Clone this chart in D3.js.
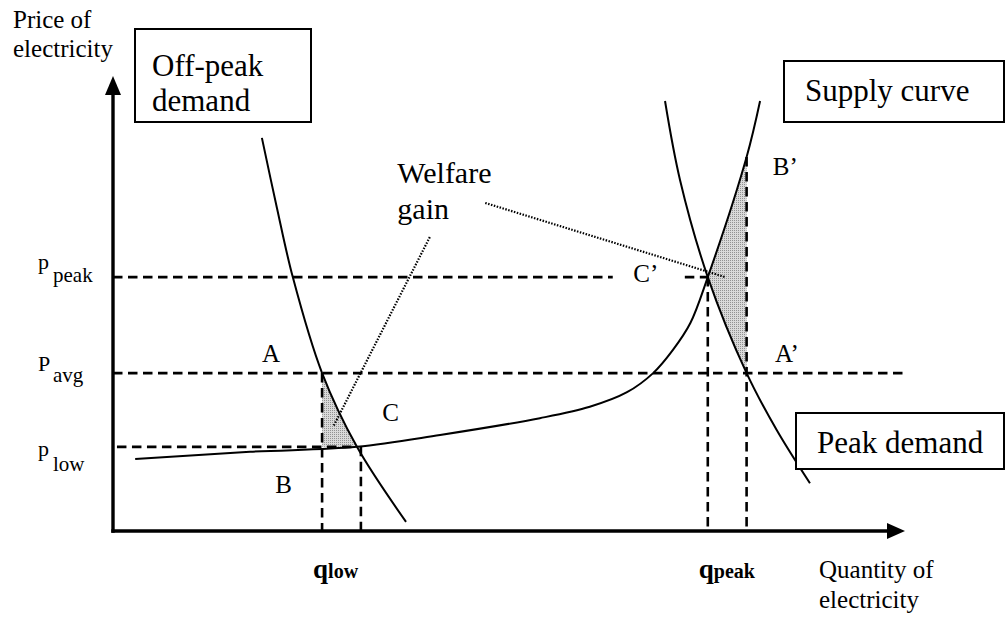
<!DOCTYPE html>
<html><head><meta charset="utf-8">
<script src="https://cdn.jsdelivr.net/npm/d3@7"></script>
<style>
html,body{margin:0;padding:0;background:#fff;}
svg{display:block;}
text{font-family:"Times New Roman","Liberation Serif",serif;fill:#000;}
</style>
</head><body>
<svg id="chart" width="1006" height="617"></svg>
<script>
// ---------------- data (quantity 0..100, price 0..100) ----------------
const offPeakDemandQ = [18.8, 20.7, 22.7, 26.4, 30.8, 37.0];
const offPeakDemandP = [86.4, 71.0, 55.8, 34.7, 18.5, 2.0];
const supplyQ = [2.8, 17.3, 30.8, 41.3, 53.9, 60.2, 64.9, 68.2, 70.7, 72.9, 75.1, 80.0, 81.7];
const supplyP = [15.8, 17.4, 18.5, 21.1, 24.8, 27.3, 30.5, 34.7, 39.8, 45.7, 55.8, 82.2, 94.5];
const peakDemandQ = [69.7, 71.6, 75.1, 80.0, 83.8, 88.0];
const peakDemandP = [94.5, 77.1, 55.8, 34.7, 22.2, 10.5];
const priceLevels = [55.8, 34.7, 18.5];          // p_peak, p_avg, p_low
const priceTickMain = ["p", "P", "p"];
const priceTickSub = ["peak", "avg", "low"];
const quantityLevels = [26.4, 75.1];             // q_low, q_peak
const quantityTickMain = ["q", "q"];
const quantityTickSub = ["low", "peak"];
const qLowEq = 31.3;     // off-peak equilibrium quantity (at p_low)
const qPeakAvg = 80.0;   // peak demand at p_avg
const pPeakAvgTop = 82.2;// supply price at qPeakAvg (B')
const welfareLeaderA = [[40.0, 64.6], [27.8, 22.9]];
const welfareLeaderB = [[47.0, 72.1], [77.3, 55.8]];

const [pPeak, pAvg, pLow] = priceLevels;
const [qLow, qPeak] = quantityLevels;

const svg = d3.select("#chart");
const x = d3.scaleLinear().domain([0, 100]).range([113, 905]);
const y = d3.scaleLinear().domain([0, 100]).range([531, 76]);

const pts = (qs, ps) => qs.map((q, i) => [q, ps[i]]);
const offPeak = pts(offPeakDemandQ, offPeakDemandP);
const supply = pts(supplyQ, supplyP);
const peakD = pts(peakDemandQ, peakDemandP);

const curve = d3.line().x(d => x(d[0])).y(d => y(d[1])).curve(d3.curveCatmullRom.alpha(0.5));
const lin = d3.line().x(d => x(d[0])).y(d => y(d[1]));

// defs: pattern + clips
const defs = svg.append("defs");
const pat = defs.append("pattern").attr("id", "stipple").attr("width", 2).attr("height", 2)
  .attr("patternUnits", "userSpaceOnUse");
pat.append("rect").attr("width", 2).attr("height", 2).attr("fill", "#dadada");
pat.append("rect").attr("width", 1).attr("height", 1).attr("fill", "#929292");

const closePath = (d, extra) => d + extra.map(p => "L" + x(p[0]) + "," + y(p[1])).join("") + "Z";
defs.append("clipPath").attr("id", "leftOfOffPeak").append("path")
  .attr("d", closePath(curve(offPeak), [[-20, offPeak[offPeak.length-1][1]], [-20, offPeak[0][1]]]));
defs.append("clipPath").attr("id", "rightOfSupply").append("path")
  .attr("d", closePath(curve(supply), [[120, supply[supply.length-1][1]], [120, -20], [supply[0][0], -20]]));
defs.append("clipPath").attr("id", "rightOfPeakD").append("path")
  .attr("d", closePath(curve(peakD), [[120, peakD[peakD.length-1][1]], [120, 120], [peakD[0][0], 120]]));

// shaded welfare areas
svg.append("g").attr("clip-path", "url(#leftOfOffPeak)")
  .append("rect")
  .attr("x", x(qLow)).attr("y", y(pAvg))
  .attr("width", x(offPeakDemandQ[4]) - x(qLow)).attr("height", y(pLow) - y(pAvg))
  .attr("fill", "url(#stipple)");
svg.append("g").attr("clip-path", "url(#rightOfSupply)")
  .append("rect").attr("clip-path", "url(#rightOfPeakD)")
  .attr("x", x(qPeak)).attr("y", y(pPeakAvgTop))
  .attr("width", x(qPeakAvg) - x(qPeak)).attr("height", y(pAvg) - y(pPeakAvgTop))
  .attr("fill", "url(#stipple)");

// dashed guide lines
const dash = svg.append("g").attr("stroke", "#000").attr("stroke-width", 2.6)
  .attr("stroke-dasharray", "9.5,5.5").attr("fill", "none");
const seg = (a, b) => dash.append("path").attr("d", lin([a, b]));
seg([0, pPeak], [63.1, pPeak]);
seg([72.2, pPeak], [qPeak, pPeak]);
seg([0, pAvg], [100, pAvg]);
seg([0.5, pLow], [offPeakDemandQ[4], pLow]);
seg([qLow, pAvg], [qLow, 0]);
seg([qLowEq, pLow], [qLowEq, 0]);
seg([qPeak, pPeak], [qPeak, 0]);
seg([qPeakAvg, pPeakAvgTop], [qPeakAvg, 0]);

// curves
const curves = svg.append("g").attr("fill", "none").attr("stroke", "#000").attr("stroke-width", 2);
curves.append("path").attr("d", curve(offPeak));
curves.append("path").attr("d", curve(supply));
curves.append("path").attr("d", curve(peakD));

// dotted leaders
const dots = svg.append("g").attr("fill", "none").attr("stroke", "#000").attr("stroke-width", 2.2)
  .attr("stroke-dasharray", "1.5,1.5");
dots.append("path").attr("d", lin(welfareLeaderA));
dots.append("path").attr("d", lin(welfareLeaderB));

// axes with arrows
const ax = svg.append("g").attr("stroke", "#000").attr("stroke-width", 3.4).attr("fill", "none");
ax.append("line").attr("x1", x(0)).attr("x2", x(0)).attr("y1", y(0) + 1.7).attr("y2", y(100) + 10);
ax.append("line").attr("x1", x(0) - 1.7).attr("x2", x(100) - 10).attr("y1", y(0)).attr("y2", y(0));
svg.append("path").attr("fill", "#000")
  .attr("d", `M${x(0)},${y(100)}L${x(0) - 8},${y(100) + 19}L${x(0) + 8},${y(100) + 19}Z`);
svg.append("path").attr("fill", "#000")
  .attr("d", `M${x(100)},${y(0)}L${x(100) - 18},${y(0) - 8}L${x(100) - 18},${y(0) + 8}Z`);

// axis titles
const t = (tx, ty, s, size) => svg.append("text").attr("x", tx).attr("y", ty).attr("font-size", size).text(s);
t(13, 28, "Price of", 25);
t(13, 57, "electricity", 25);
t(x(100) - 86, 578, "Quantity of", 25);
t(x(100) - 86, 608, "electricity", 25);

// price tick labels
const pMainDy = [-8, -2, 9];
const pSubDy = [5, 9, 24];
priceLevels.forEach((p, i) => {
  svg.append("text").attr("x", 38).attr("y", y(p) + pMainDy[i]).attr("font-size", 22).text(priceTickMain[i]);
  svg.append("text").attr("x", 53).attr("y", y(p) + pSubDy[i]).attr("font-size", 21).text(priceTickSub[i]);
});
// quantity tick labels
quantityLevels.forEach((q, i) => {
  const tx = svg.append("text").attr("x", x(q) - 9).attr("y", 578).attr("font-weight", "bold");
  tx.append("tspan").attr("font-size", 27).text(quantityTickMain[i]);
  tx.append("tspan").attr("font-size", 20).text(quantityTickSub[i]);
});

// point letters
const lab = (q, p, s) => svg.append("text").attr("x", x(q)).attr("y", y(p)).attr("font-size", 25).text(s);
lab(18.8, 37.1, "A");
lab(20.5, 8.4, "B");
lab(34.0, 24.2, "C");
lab(65.7, 54.7, "C\u2019");
lab(83.3, 78.2, "B\u2019");
lab(83.6, 37.1, "A\u2019");
svg.append("text").attr("x", x(35.9)).attr("y", y(76.5)).attr("font-size", 30).text("Welfare");
svg.append("text").attr("x", x(35.9)).attr("y", y(68.6)).attr("font-size", 30).text("gain");

// boxes
const box = (bx, by, bw, bh, lines, tx, tys) => {
  svg.append("rect").attr("x", bx).attr("y", by).attr("width", bw).attr("height", bh)
    .attr("fill", "#fff").attr("stroke", "#000").attr("stroke-width", 2);
  lines.forEach((s, i) => svg.append("text").attr("x", tx).attr("y", tys[i]).attr("font-size", 31).text(s));
};
box(135, 29, 176, 93, ["Off-peak", "demand"], 152, [76, 111]);
box(784, 61, 220, 61, ["Supply curve"], 805, [101]);
box(796, 413, 208, 56, ["Peak demand"], 817, [453]);
</script>
</body></html>
